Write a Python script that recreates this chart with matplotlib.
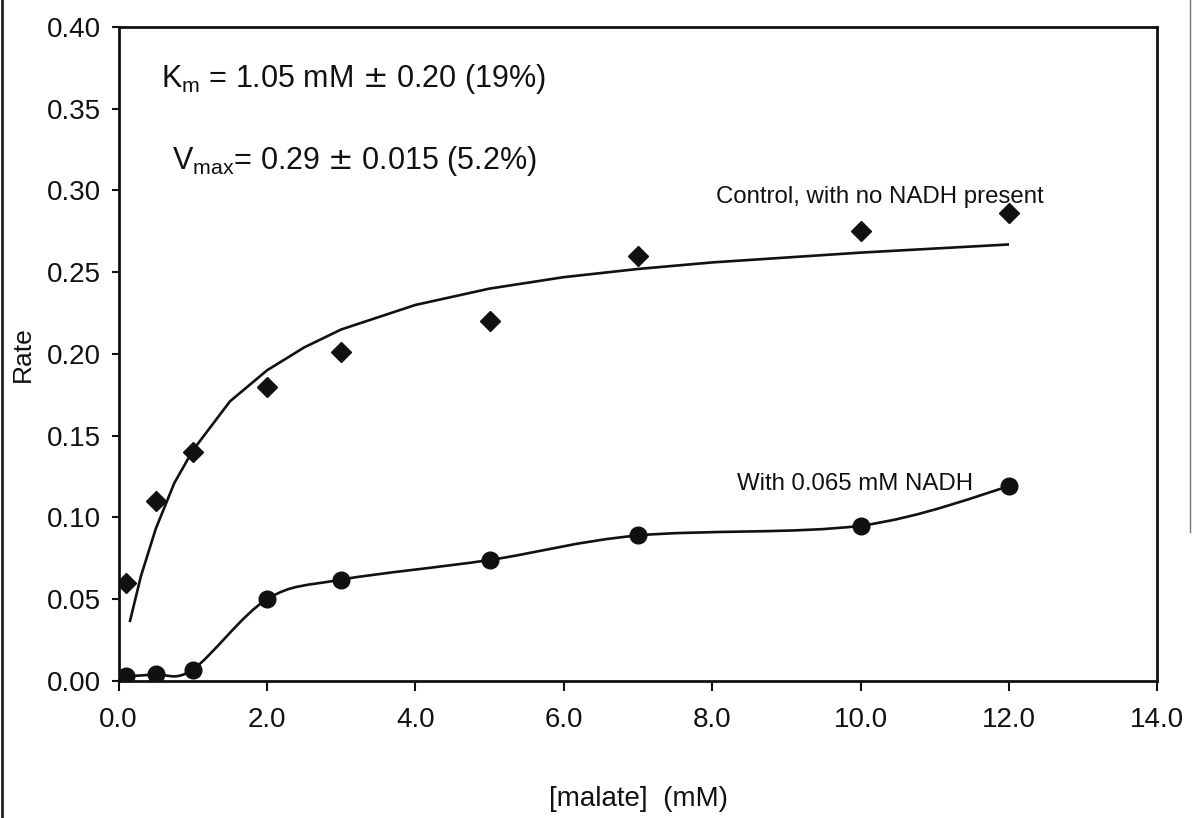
import numpy as np
import matplotlib
matplotlib.use("Agg")
import matplotlib.pyplot as plt
from matplotlib.path import Path
from matplotlib.patches import PathPatch
from matplotlib.lines import Line2D

plt.rcParams['font.family'] = ['Liberation Sans', 'DejaVu Sans']

# Control, no NADH (diamonds)
malate_ctrl = [0.1, 0.5, 1.0, 2.0, 3.0, 5.0, 7.0, 10.0, 12.0]
rate_ctrl = [0.060, 0.110, 0.140, 0.180, 0.201, 0.220, 0.260, 0.275, 0.286]

# fitted curve for the control
fit_x = [0.15, 0.3, 0.5, 0.75, 1.0, 1.5, 2.0, 2.5, 3.0, 4.0, 5.0, 6.0, 7.0, 8.0, 10.0, 12.0]
fit_y = [0.036, 0.064, 0.093, 0.121, 0.141, 0.171, 0.190, 0.204, 0.215, 0.230, 0.240,
         0.247, 0.252, 0.256, 0.262, 0.267]

# With 0.065 mM NADH (circles)
malate_nadh = [0.1, 0.5, 1.0, 2.0, 3.0, 5.0, 7.0, 10.0, 12.0]
rate_nadh = [0.003, 0.004, 0.007, 0.050, 0.062, 0.074, 0.089, 0.095, 0.119]

x_ticks = [0.0, 2.0, 4.0, 6.0, 8.0, 10.0, 12.0, 14.0]
y_ticks = [0.00, 0.05, 0.10, 0.15, 0.20, 0.25, 0.30, 0.35, 0.40]


def smooth_path(xs, ys, tension=1.0 / 6):
    # Excel style smoothed line: cubic bezier through every point
    pts = np.column_stack([xs, ys])
    verts = [pts[0]]
    codes = [Path.MOVETO]
    n = len(pts)
    for i in range(n - 1):
        p0 = pts[i - 1] if i > 0 else pts[i]
        p1 = pts[i]
        p2 = pts[i + 1]
        p3 = pts[i + 2] if i + 2 < n else pts[i + 1]
        c1 = p1 + (p2 - p0) * tension
        c2 = p2 - (p3 - p1) * tension
        verts += [c1, c2, p2]
        codes += [Path.CURVE4] * 3
    return Path(verts, codes)


fig = plt.figure(figsize=(11.92, 8.18), dpi=100)
ax = fig.add_axes([0.0995, 0.1675, 0.8715, 0.7995])

ax.plot(fit_x, fit_y, color='#111111', lw=1.9, solid_capstyle='butt')
ax.plot(malate_ctrl, rate_ctrl, linestyle='none', marker='D', markersize=10,
        color='#111111')

# smoothed curve in display space so the shape doesn't depend on axis scaling
ax.set_xlim(0, 14)
ax.set_ylim(0, 0.40)
fig.canvas.draw()
disp = ax.transData.transform(np.column_stack([malate_nadh, rate_nadh]))
path = smooth_path(disp[:, 0], disp[:, 1])
ax.add_patch(PathPatch(path, transform=None, facecolor='none',
                       edgecolor='#111111', lw=1.9))
ax.plot(malate_nadh, rate_nadh, linestyle='none', marker='o', markersize=12,
        color='#111111')

ax.set_xticks(x_ticks)
ax.set_xticklabels(['%.1f' % v for v in x_ticks])
ax.set_yticks(y_ticks)
ax.set_yticklabels(['%.2f' % v for v in y_ticks])
ax.tick_params(axis='both', labelsize=20, colors='#111111', width=1.5)
ax.tick_params(axis='x', length=7, direction='out', pad=12)
ax.tick_params(axis='y', length=5, direction='out', pad=8)
for s in ax.spines.values():
    s.set_linewidth(2.0)
    s.set_color('#111111')

ax.set_ylabel('Rate', fontsize=19, labelpad=8, color='#111111')
ax.set_xlabel('[malate]  (mM)', fontsize=20, labelpad=38, color='#111111')

ax.text(0.57, 0.368, r'K$_\mathregular{m}$ = 1.05 mM $\pm$ 0.20 (19%)',
        fontsize=22, va='center', ha='left', color='#111111')
ax.text(0.72, 0.318, r'V$_\mathregular{max}$= 0.29 $\pm$ 0.015 (5.2%)',
        fontsize=22, va='center', ha='left', color='#111111')
ax.text(8.05, 0.296, 'Control, with no NADH present', fontsize=17.3,
        va='center', ha='left', color='#111111')
ax.text(8.33, 0.1205, 'With 0.065 mM NADH', fontsize=17.3,
        va='center', ha='left', color='#111111')

# page border
fig.add_artist(Line2D([0.002, 0.002], [0, 1], transform=fig.transFigure,
                      color='#222222', lw=2))
fig.add_artist(Line2D([0.998, 0.998], [0.35, 1], transform=fig.transFigure,
                      color='#777777', lw=1))

fig.savefig('out.png', dpi=100)
